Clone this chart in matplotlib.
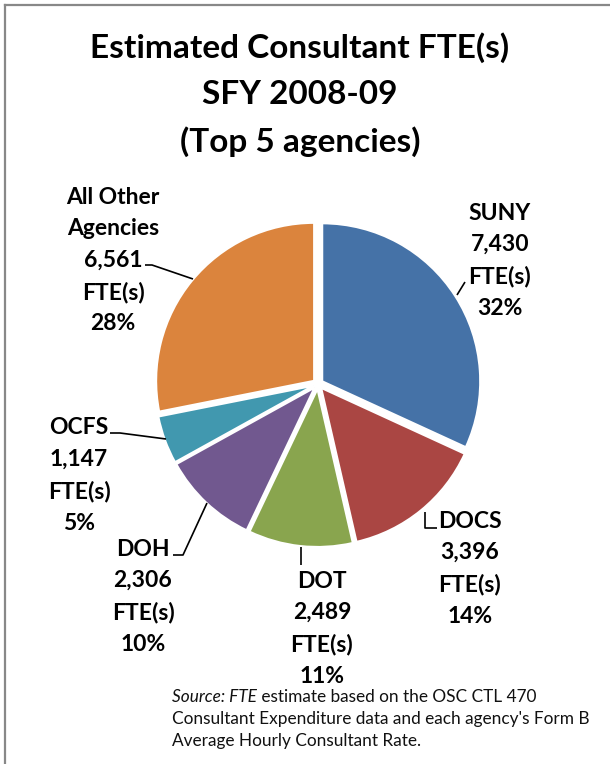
import matplotlib
matplotlib.use("Agg")
import matplotlib.pyplot as plt
from matplotlib.lines import Line2D

plt.rcParams['font.family'] = ['Lato', 'DejaVu Sans']

# data
agencies = ["SUNY", "DOCS", "DOT", "DOH", "OCFS", "All Other\nAgencies"]
fte = [7430, 3396, 2489, 2306, 1147, 6561]
pct_labels = ["32%", "14%", "11%", "10%", "5%", "28%"]
colors = ["#4572A7", "#AA4643", "#89A54E", "#71588F", "#4198AF", "#DB843D"]

W, H = 610, 764


def px(x, y):
    # pixel coords (top-left origin) -> data coords
    return x, H - y


fig = plt.figure(figsize=(W / 100, H / 100), dpi=100)
ax = fig.add_axes([0, 0, 1, 1])

ax.pie(fte, colors=colors, startangle=90, counterclock=False,
       center=px(318, 384), radius=158, explode=[5] * len(fte),
       wedgeprops=dict(edgecolor="white", linewidth=1.5))
ax.set_xlim(0, W)
ax.set_ylim(0, H)
ax.set_aspect("equal")
ax.axis("off")

# title
title_lines = ["Estimated Consultant FTE(s)", "SFY 2008-09", "(Top 5 agencies)"]
for i, t in enumerate(title_lines):
    ax.text(*px(300, 48 + i * 47), t, ha="center", va="center",
            fontsize=24, fontweight="bold", color="black")

# label layout: (x center, y of first line), leader path in pixels
label_pos = {
    "SUNY": ((500, 213), [(457, 295), (465, 282)]),
    "DOCS": ((470, 521), [(437, 528), (425, 528), (425, 512)]),
    "DOT": ((322, 581), [(301, 565), (301, 547)]),
    "DOH": ((143, 549), [(173, 555), (183, 555), (207, 503)]),
    "OCFS": ((79, 428), [(110, 433), (120, 433), (166, 439)]),
    "All Other\nAgencies": ((113, 197), [(145, 265), (152, 265), (193, 279)]),
}

step = 31.7
for name, val, pct in zip(agencies, fte, pct_labels):
    (cx, cy), path = label_pos[name]
    lines = name.split("\n") + [f"{val:,}", "FTE(s)", pct]
    for j, line in enumerate(lines):
        ax.text(*px(cx, cy + j * step), line, ha="center", va="center",
                fontsize=16.5, fontweight="bold", color="black")
    xs = [p[0] for p in path]
    ys = [H - p[1] for p in path]
    ax.plot(xs, ys, color="black", lw=1.2, solid_capstyle="butt")

# source note
fs = 12.4
t1 = ax.text(*px(172, 697), "Source: FTE", fontsize=fs, style="italic",
             ha="left", va="center", color="#111111")
ax.annotate(" estimate based on the OSC CTL 470", xy=(1, 0.5),
            xycoords=t1, va="center", ha="left", fontsize=fs,
            color="#111111")
ax.text(*px(172, 719), "Consultant Expenditure data and each agency's Form B",
        fontsize=fs, ha="left", va="center", color="#111111")
ax.text(*px(172, 741), "Average Hourly Consultant Rate.",
        fontsize=fs, ha="left", va="center", color="#111111")

# frame
fig.add_artist(Line2D([5 / W, 1], [1 - 5 / H, 1 - 5 / H], color="#888888", lw=1.6))
fig.add_artist(Line2D([5 / W, 5 / W], [0, 1 - 5 / H], color="#888888", lw=1.6))

fig.savefig("out.png", dpi=100)
